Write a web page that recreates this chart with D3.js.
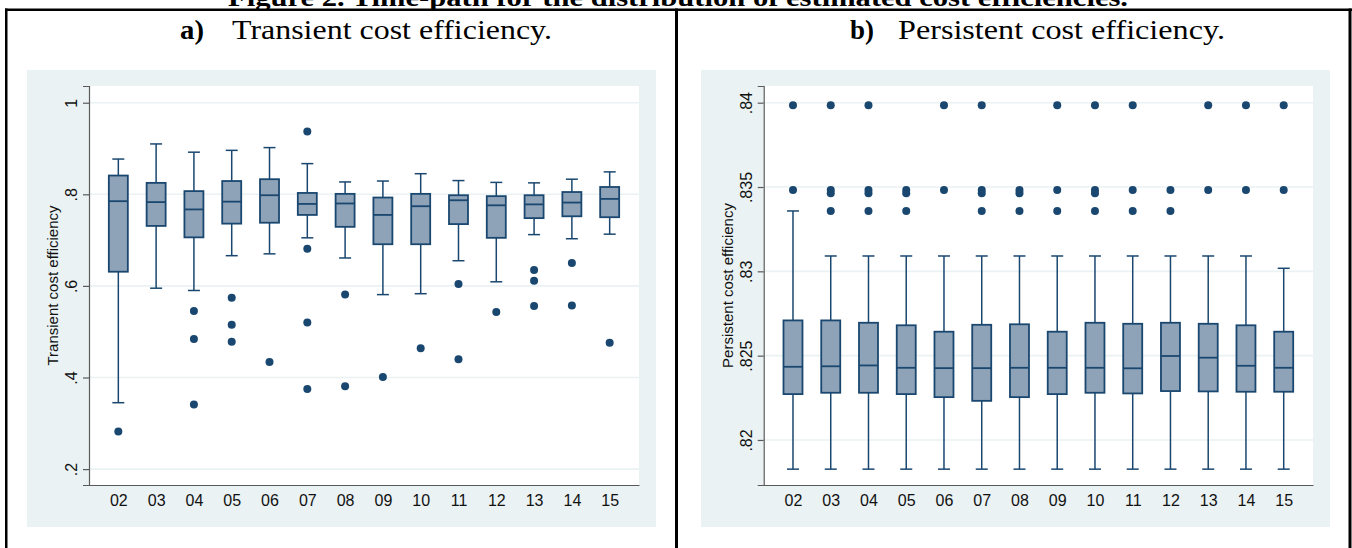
<!DOCTYPE html>
<html>
<head>
<meta charset="utf-8">
<script src="https://cdn.jsdelivr.net/npm/d3@7"></script>
<style>
  body { margin: 0; background: #fff; }
  svg { display: block; }
</style>
</head>
<body>
<svg id="chart" width="1352" height="548"></svg>
<script>
// years on the x axis (both panels)
var years = ["02","03","04","05","06","07","08","09","10","11","12","13","14","15"];

// a) transient cost efficiency
var transLoW = [0.345,0.595,0.590,0.666,0.670,0.705,0.661,0.581,0.583,0.655,0.609,0.712,0.703,0.713];
var transQ1  = [0.631,0.731,0.706,0.736,0.738,0.755,0.729,0.691,0.691,0.735,0.705,0.748,0.752,0.750];
var transMed = [0.785,0.783,0.767,0.784,0.798,0.779,0.780,0.755,0.774,0.787,0.776,0.778,0.782,0.790];
var transQ3  = [0.841,0.825,0.807,0.829,0.833,0.803,0.801,0.793,0.801,0.798,0.796,0.798,0.805,0.816];
var transHiW = [0.877,0.910,0.892,0.896,0.902,0.867,0.827,0.829,0.845,0.830,0.826,0.825,0.833,0.849];
var transOut = [
  [0.282],
  [],
  [0.545,0.484,0.341],
  [0.574,0.515,0.478],
  [0.434],
  [0.937,0.681,0.520,0.375],
  [0.581,0.381],
  [0.401],
  [0.464],
  [0.604,0.440],
  [0.543],
  [0.635,0.611,0.556],
  [0.650,0.557],
  [0.476]
];
var transTicks = [0.2,0.4,0.6,0.8,1];

// b) persistent cost efficiency
var persLoW = [0.81827,0.81827,0.81827,0.81827,0.81827,0.81827,0.81827,0.81827,0.81827,0.81827,0.81827,0.81827,0.81827,0.81827];
var persQ1  = [0.82272,0.82280,0.82280,0.82272,0.82254,0.82232,0.82254,0.82272,0.82280,0.82276,0.82290,0.82288,0.82286,0.82286];
var persMed = [0.82434,0.82437,0.82442,0.82428,0.82426,0.82426,0.82428,0.82428,0.82428,0.82425,0.82498,0.82488,0.82440,0.82428];
var persQ3  = [0.82709,0.82709,0.82695,0.82680,0.82642,0.82683,0.82686,0.82642,0.82695,0.82689,0.82695,0.82689,0.82680,0.82642];
var persHiW = [0.83358,0.83091,0.83091,0.83091,0.83091,0.83091,0.83091,0.83091,0.83091,0.83091,0.83091,0.83091,0.83091,0.83018];
var persOut = [
  [0.83985,0.83482],
  [0.83985,0.83482,0.83463,0.83358],
  [0.83985,0.83482,0.83463,0.83358],
  [0.83482,0.83463,0.83358],
  [0.83985,0.83482],
  [0.83985,0.83482,0.83463,0.83358],
  [0.83482,0.83463,0.83358],
  [0.83985,0.83482,0.83358],
  [0.83985,0.83482,0.83463,0.83358],
  [0.83985,0.83482,0.83358],
  [0.83482,0.83358],
  [0.83985,0.83482],
  [0.83985,0.83482],
  [0.83985,0.83482]
];
var persTicks = [0.82,0.825,0.83,0.835,0.84];

var navy = "#1a476f";
var boxFill = "#8ea3b8";
var bgBlue = "#eaf2f3";
var sans = "'Liberation Sans', Arial, sans-serif";
var serif = "'Liberation Serif', 'Times New Roman', serif";

var svg = d3.select("#chart");

// page / table frame (heading is cut by the top edge, as in the source)
svg.append("text")
    .attr("x", 228).attr("y", 6)
    .attr("textLength", 900).attr("lengthAdjust", "spacingAndGlyphs")
    .style("font-family", serif).style("font-weight", "bold").style("font-size", "26px")
    .text("Figure 2. Time-path for the distribution of estimated cost efficiencies.");
svg.append("rect").attr("x", 5).attr("y", 8.5).attr("width", 1347).attr("height", 2.5).attr("fill", "#000");
svg.append("rect").attr("x", 5).attr("y", 8.5).attr("width", 2.5).attr("height", 540).attr("fill", "#000");
svg.append("rect").attr("x", 675).attr("y", 8.5).attr("width", 3).attr("height", 540).attr("fill", "#000");
svg.append("rect").attr("x", 1348.5).attr("y", 8.5).attr("width", 3).attr("height", 540).attr("fill", "#000");

function stataFmt(v) {
    var s = d3.format("")(+v.toFixed(4));
    return s.replace(/^0\./, ".");
}

function drawPanel(p) {
    var g = svg.append("g");

    // panel title: bold letter + plain text
    g.append("text")
        .attr("x", p.titleX0).attr("y", 39)
        .attr("textLength", 24).attr("lengthAdjust", "spacingAndGlyphs")
        .style("font-family", serif).style("font-weight", "bold").style("font-size", "28px")
        .text(p.letter);
    g.append("text")
        .attr("x", p.titleX1).attr("y", 39)
        .attr("textLength", p.titleW).attr("lengthAdjust", "spacingAndGlyphs")
        .style("font-family", serif).style("font-size", "28px")
        .text(p.title);

    // graph region and plot region
    g.append("rect")
        .attr("x", p.gx).attr("y", 70).attr("width", 629).attr("height", 457)
        .attr("fill", bgBlue);
    g.append("rect")
        .attr("x", p.px0).attr("y", p.py0).attr("width", p.px1 - p.px0).attr("height", p.py1 - p.py0)
        .attr("fill", "#fff");

    var x = d3.scalePoint().domain(years).range([p.px0, p.px1]).padding(0.776);
    var y = d3.scaleLinear().domain(p.domain).range([p.py1, p.py0]);

    // gridlines
    g.selectAll(".grid").data(p.ticks).enter().append("line")
        .attr("x1", p.px0).attr("x2", p.px1)
        .attr("y1", function(d) { return y(d); })
        .attr("y2", function(d) { return y(d); })
        .attr("stroke", bgBlue).attr("stroke-width", 1.6);

    // y axis
    var yAxis = d3.axisLeft(y).tickValues(p.ticks).tickSize(6).tickPadding(4).tickFormat(stataFmt);
    var ya = g.append("g").attr("transform", "translate(" + p.px0 + ",0)").call(yAxis);
    ya.select(".domain").attr("stroke", "#5a5a5a").attr("stroke-width", 1.2);
    ya.selectAll(".tick line").attr("stroke", "#5a5a5a").attr("stroke-width", 1.2);
    ya.selectAll(".tick text")
        .attr("x", null).attr("dy", null)
        .attr("transform", "translate(-12,0) rotate(-90)")
        .attr("text-anchor", "middle")
        .attr("fill", "#111")
        .style("font-family", sans).style("font-size", "16px");

    // x axis
    var xAxis = d3.axisBottom(x).tickSize(0).tickPadding(10);
    var xa = g.append("g").attr("transform", "translate(0," + p.py1 + ")").call(xAxis);
    xa.select(".domain").attr("stroke", "#5a5a5a").attr("stroke-width", 1.2);
    xa.selectAll(".tick text")
        .attr("fill", "#111")
        .style("font-family", sans).style("font-size", "16px");

    // y axis title
    g.append("text")
        .attr("transform", "translate(" + p.titleYX + "," + ((p.py0 + p.py1) / 2) + ") rotate(-90)")
        .attr("text-anchor", "middle")
        .attr("fill", "#111")
        .style("font-family", sans).style("font-size", "15px")
        .text(p.yTitle);

    var boxW = 19, capW = 12;
    var rows = years.map(function(yr, i) {
        return { yr: yr, lo: p.lo[i], q1: p.q1[i], med: p.med[i], q3: p.q3[i], hi: p.hi[i], out: p.out[i] };
    });

    var bx = g.selectAll(".bx").data(rows).enter().append("g");

    // whiskers
    bx.append("line")
        .attr("x1", function(d) { return x(d.yr); }).attr("x2", function(d) { return x(d.yr); })
        .attr("y1", function(d) { return y(d.q3); }).attr("y2", function(d) { return y(d.hi); })
        .attr("stroke", navy).attr("stroke-width", 1.5);
    bx.append("line")
        .attr("x1", function(d) { return x(d.yr); }).attr("x2", function(d) { return x(d.yr); })
        .attr("y1", function(d) { return y(d.q1); }).attr("y2", function(d) { return y(d.lo); })
        .attr("stroke", navy).attr("stroke-width", 1.5);
    ["hi", "lo"].forEach(function(k) {
        bx.append("line")
            .attr("x1", function(d) { return x(d.yr) - capW / 2; })
            .attr("x2", function(d) { return x(d.yr) + capW / 2; })
            .attr("y1", function(d) { return y(d[k]); }).attr("y2", function(d) { return y(d[k]); })
            .attr("stroke", navy).attr("stroke-width", 1.5);
    });

    // boxes
    bx.append("rect")
        .attr("x", function(d) { return x(d.yr) - boxW / 2; })
        .attr("width", boxW)
        .attr("y", function(d) { return y(d.q3); })
        .attr("height", function(d) { return y(d.q1) - y(d.q3); })
        .attr("fill", boxFill).attr("stroke", navy).attr("stroke-width", 1.8);
    bx.append("line")
        .attr("x1", function(d) { return x(d.yr) - boxW / 2; })
        .attr("x2", function(d) { return x(d.yr) + boxW / 2; })
        .attr("y1", function(d) { return y(d.med); }).attr("y2", function(d) { return y(d.med); })
        .attr("stroke", navy).attr("stroke-width", 1.8);

    // outside values
    bx.selectAll("circle")
        .data(function(d) { return d.out.map(function(v) { return { yr: d.yr, v: v }; }); })
        .enter().append("circle")
        .attr("cx", function(d) { return x(d.yr); })
        .attr("cy", function(d) { return y(d.v); })
        .attr("r", 4)
        .attr("fill", navy);
}

drawPanel({
    letter: "a)", title: "Transient cost efficiency.", titleX0: 180, titleX1: 232, titleW: 320,
    yTitle: "Transient cost efficiency", titleYX: 58,
    gx: 27, px0: 89, px1: 639, py0: 86, py1: 485,
    domain: [0.1653, 1.0365], ticks: transTicks,
    lo: transLoW, q1: transQ1, med: transMed, q3: transQ3, hi: transHiW, out: transOut
});

drawPanel({
    letter: "b)", title: "Persistent cost efficiency.", titleX0: 850, titleX1: 898, titleW: 327,
    yTitle: "Persistent cost efficiency", titleYX: 733,
    gx: 701, px0: 763.7, px1: 1313, py0: 86, py1: 485,
    domain: [0.81733, 0.84099], ticks: persTicks,
    lo: persLoW, q1: persQ1, med: persMed, q3: persQ3, hi: persHiW, out: persOut
});
</script>
</body>
</html>
